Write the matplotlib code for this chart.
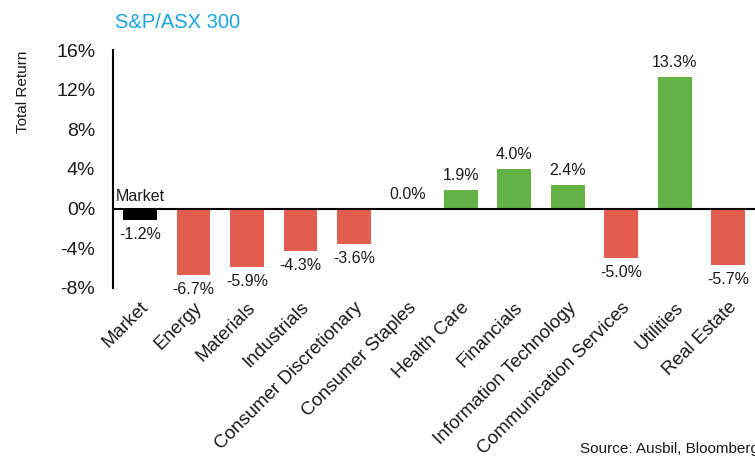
import matplotlib
matplotlib.use("Agg")
import matplotlib.pyplot as plt
import numpy as np

plt.rcParams["font.family"] = ["Liberation Sans", "DejaVu Sans"]

sectors = [
    "Market", "Energy", "Materials", "Industrials", "Consumer Discretionary",
    "Consumer Staples", "Health Care", "Financials", "Information Technology",
    "Communication Services", "Utilities", "Real Estate",
]
returns = [-1.2, -6.7, -5.9, -4.3, -3.6, 0.0, 1.9, 4.0, 2.4, -5.0, 13.3, -5.7]
y_ticks = [-8, -4, 0, 4, 8, 12, 16]

GREEN = "#62b345"
RED = "#e35d4f"
TEXT = "#1a1a1a"


def bar_color(name, val):
    if name == "Market":
        return "black"
    return GREEN if val >= 0 else RED


fig = plt.figure(figsize=(7.55, 4.59), dpi=100)
ax = fig.add_axes([0.150, 0.373, 0.850, 0.518])

x = np.arange(len(sectors))
colors = [bar_color(s, v) for s, v in zip(sectors, returns)]
ax.bar(x, returns, width=0.63, color=colors, zorder=2)
ax.axhline(0, color="black", linewidth=1.5, zorder=3)

for xi, name, val in zip(x, sectors, returns):
    if val >= 0:
        ax.text(xi, val + 0.7, f"{val:.1f}%", ha="center", va="bottom", fontsize=11.5, color=TEXT)
    else:
        ax.text(xi, val - 0.7, f"{val:.1f}%", ha="center", va="top", fontsize=11.5, color=TEXT)
ax.text(0, 0.5, "Market", ha="center", va="bottom", fontsize=11.5, color=TEXT)

ax.set_xlim(-0.5, len(sectors) - 0.5)
ax.set_ylim(-8, 16)
ax.set_yticks(y_ticks)
ax.set_yticklabels([f"{t}%" for t in y_ticks], fontsize=14, color=TEXT)
ax.set_xticks(x)
ax.set_xticklabels(sectors, rotation=45, ha="right", rotation_mode="anchor", fontsize=13.5, color=TEXT)
ax.tick_params(axis="both", length=0)
ax.tick_params(axis="y", pad=13)
ax.tick_params(axis="x", pad=8)

for side in ["top", "right", "bottom"]:
    ax.spines[side].set_visible(False)
ax.spines["left"].set_linewidth(1.5)

fig.text(0.152, 0.952, "S&P/ASX 300", color="#1ba3e3", fontsize=14.5, ha="left", va="center")
fig.text(0.03, 0.80, "Total Return", rotation=90, fontsize=11, ha="center", va="center", color=TEXT)
fig.text(0.768, 0.022, "Source: Ausbil, Bloomberg", fontsize=11, ha="left", va="center", color=TEXT)

fig.savefig("out.png", dpi=100)
